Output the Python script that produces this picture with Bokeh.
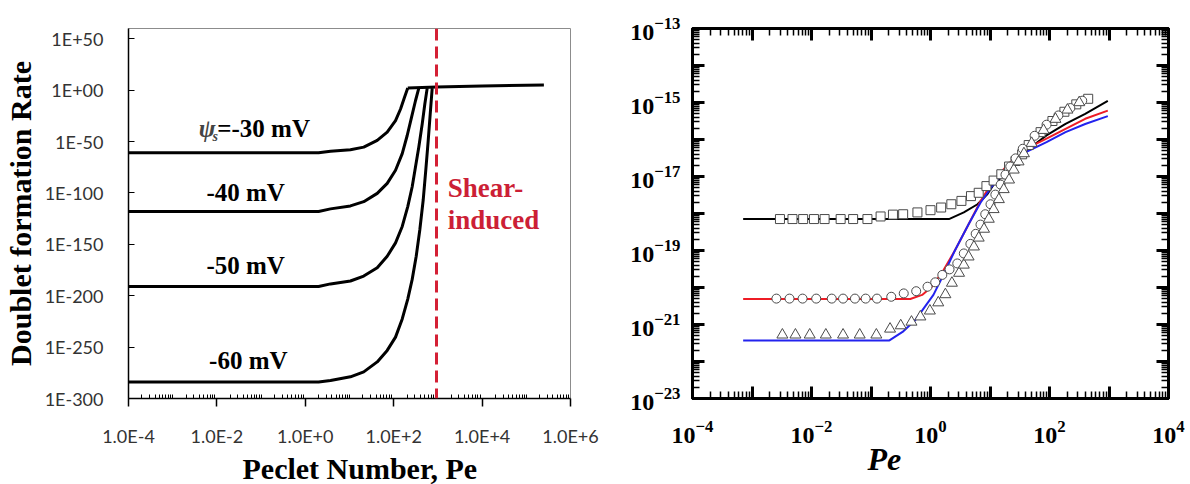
from bokeh.plotting import figure
from bokeh.layouts import row
from bokeh.models import (FixedTicker, LogAxis, CustomJSTickFormatter, LogTickFormatter,
                          Span, Label, Range1d, Title)
from bokeh.embed import file_html
from bokeh.resources import INLINE

# ---------------- Left panel data: Pe and log10(doublet formation rate) ----------------
PE_30 = [1e-4, 2.0, 3.72, 10.5, 21.0, 42.4, 71.3, 110, 143, 175, 208]
LOG_RATE_30 = [-61, -61, -59.5, -57.9, -55.4, -48.9, -40.9, -29.6, -18.3, -7.1, 2]
PE_40 = [1e-4, 2.0, 3.72, 10.5, 21.0, 42.4, 71.3, 110, 156, 202, 253, 311, 370]
LOG_RATE_40 = [-118, -118, -115.5, -112.6, -108.5, -100.4, -90.7, -77.9, -61.8, -44.1, -26.4, -10.3, 2]
PE_50 = [1e-4, 2.0, 3.72, 10.5, 21.0, 42.4, 71.3, 110, 156, 208, 262, 311, 370, 442, 506, 573]
LOG_RATE_50 = [-191, -191, -188.5, -185.7, -180.9, -172.8, -161.6, -148.6, -132.6, -113.3, -94.0,
               -74.7, -55.4, -32.8, -13.5, 2]
PE_60 = [1e-4, 2.0, 3.72, 10.5, 21.0, 42.4, 71.3, 110, 156, 208, 262, 323, 390, 465, 532, 604, 670, 743]
LOG_RATE_60 = [-284, -284, -282.5, -278.9, -274.1, -264.4, -253.2, -240.3, -222.6, -203.3, -184.1,
               -161.6, -135.8, -106.9, -77.9, -48.9, -23.2, 2]
PE_PLATEAU = [208, 930, 1e4, 2.5e5]
LOG_RATE_PLATEAU = [2, 3, 4, 5]
PE_SHEAR = 930

LEFT_X_TICKS = [1e-4, 1e-2, 1e0, 1e2, 1e4, 1e6]
LEFT_Y_TICKS = [-300, -250, -200, -150, -100, -50, 0, 50]

# ---------------- Right panel data ----------------
PE_LINE_K = [7.1e-4, 2.04, 3.63, 6.17, 8.91, 11.5, 19.5, 41.7, 89.1, 186, 398, 955]
K_LINE = [7.08e-19, 7.08e-19, 1.07e-18, 1.78e-18, 3.24e-18, 6.03e-18, 1.35e-17, 5.13e-17,
          1.29e-16, 2.63e-16, 4.90e-16, 1.10e-15]
PE_LINE_R = [7.1e-4, 0.457, 0.724, 1.05, 1.66, 2.57, 4.37, 6.92, 10.7, 19.5, 41.7, 89.1, 186, 398, 955]
R_LINE = [4.9e-21, 4.9e-21, 6.3e-21, 1.05e-20, 2.95e-20, 1.0e-19, 5.13e-19, 2.14e-18, 6.61e-18,
          2.04e-17, 5.75e-17, 1.05e-16, 1.95e-16, 3.63e-16, 6.03e-16]
PE_LINE_B = [7.1e-4, 0.204, 0.339, 0.562, 1.12, 1.66, 2.57, 4.37, 6.92, 10.7, 19.5, 41.7, 89.1,
             186, 398, 955]
B_LINE = [3.72e-22, 3.72e-22, 6.31e-22, 1.35e-21, 6.31e-21, 2.24e-20, 1.0e-19, 5.13e-19, 1.95e-18,
          5.37e-18, 1.66e-17, 4.68e-17, 8.51e-17, 1.58e-16, 2.63e-16, 4.27e-16]

PE_SQ = [2.95e-3, 4.79e-3, 7.24e-3, 0.011, 0.0166, 0.0309, 0.0501, 0.0871, 0.145, 0.234, 0.347,
         0.603, 1.0, 1.51, 2.24, 3.31, 4.79, 6.46, 8.71, 11.5, 15.5, 20.9, 26.9, 34.7, 44.7, 70.8,
         112, 178, 282, 447]
SQ = [7.08e-19] * 8 + [8.32e-19, 9.33e-19, 9.55e-19, 1.07e-18, 1.23e-18, 1.45e-18, 1.78e-18,
                       2.19e-18, 2.95e-18, 3.63e-18, 5.50e-18, 7.76e-18, 1.15e-17, 1.86e-17,
                       2.63e-17, 3.98e-17, 7.08e-17, 1.58e-16, 3.16e-16, 5.62e-16, 8.91e-16, 1.26e-15]
PE_CI = [2.57e-3, 4.27e-3, 7.08e-3, 0.012, 0.0219, 0.0339, 0.0537, 0.0813, 0.126, 0.219, 0.355,
         0.575, 0.891, 1.20, 1.58, 2.09, 2.82, 3.63, 4.68, 5.75, 6.92, 8.32, 10.2, 12.3, 15.1, 18.2,
         21.9, 26.9, 35.5, 56.2, 89.1, 141, 224, 355]
CI = [5.01e-21] * 9 + [5.62e-21, 6.92e-21, 7.94e-21, 1.05e-20, 1.38e-20, 2.19e-20, 3.09e-20,
                       4.47e-20, 8.32e-20, 1.51e-19, 2.82e-19, 5.01e-19, 9.55e-19, 1.78e-18,
                       3.24e-18, 6.03e-18, 1.12e-17, 1.86e-17, 3.09e-17, 5.62e-17, 1.26e-16,
                       2.51e-16, 4.47e-16, 7.08e-16, 1.12e-15]
PE_TR = [3.24e-3, 5.37e-3, 9.33e-3, 0.0174, 0.0339, 0.0646, 0.123, 0.209, 0.316, 0.479, 0.676,
         0.977, 1.35, 1.78, 2.29, 3.02, 3.63, 4.37, 5.37, 6.46, 7.94, 9.55, 11.5, 14.1, 17.0, 20.9,
         25.1, 30.2, 37.2, 50.1, 79.4, 126, 200, 316]
TR = [5.25e-22] * 7 + [7.59e-22, 9.33e-22, 1.17e-21, 1.62e-21, 2.34e-21, 3.89e-21, 6.46e-21,
                       1.32e-20, 2.45e-20, 4.07e-20, 6.76e-20, 1.26e-19, 2.19e-19, 3.80e-19,
                       7.08e-19, 1.29e-18, 2.40e-18, 4.47e-18, 8.13e-18, 1.51e-17, 2.51e-17,
                       4.17e-17, 7.94e-17, 1.78e-16, 3.55e-16, 6.31e-16, 1.0e-15]

RIGHT_X_LABELS = [1e-4, 1e-2, 1e0, 1e2, 1e4]
RIGHT_Y_LABELS = [1e-23, 1e-21, 1e-19, 1e-17, 1e-15, 1e-13]

SERIF = "Liberation Serif"

# =============================== LEFT PANEL ===============================
p1 = figure(width=600, height=484, x_axis_type="log",
            x_range=Range1d(1e-4, 1e6), y_range=Range1d(-300, 60),
            output_backend="svg", toolbar_location=None,
            min_border_left=128, min_border_right=30, min_border_top=27, min_border_bottom=84)
p1.grid.visible = False
p1.outline_line_color = "#8c8c8c"
p1.outline_line_width = 1

x_minor = []
for d in range(-4, 6):
    for k in range(1, 10):
        if k == 1 and d % 2 == 0:
            continue
        x_minor.append(k * 10.0 ** d)
xa = p1.xaxis[0]
xa.ticker = FixedTicker(ticks=LEFT_X_TICKS, minor_ticks=x_minor)
xa.formatter = CustomJSTickFormatter(code="""
const e = Math.round(Math.log10(tick));
return '1.0E' + (e < 0 ? '-' : '+') + Math.abs(e);""")
xa.axis_line_color = "black"
xa.axis_line_width = 1.5
xa.major_tick_out = 8
xa.major_tick_in = 0
xa.major_tick_line_width = 1.5
xa.minor_tick_in = 4
xa.minor_tick_out = 0
xa.minor_tick_line_width = 1
xa.major_label_standoff = 18
xa.major_label_text_font = "Lato"
xa.major_label_text_font_size = "18px"
xa.major_label_text_color = "#333333"

ya = p1.yaxis[0]
ya.ticker = FixedTicker(ticks=LEFT_Y_TICKS, minor_ticks=[])
ya.formatter = CustomJSTickFormatter(code="""
const e = Math.round(tick);
const a = Math.abs(e);
return '1E' + (e < 0 ? '-' : '+') + (a < 10 ? '0' + a : '' + a);""")
ya.axis_line_color = "black"
ya.axis_line_width = 1.5
ya.major_tick_in = 6
ya.major_tick_out = 0
ya.major_tick_line_width = 1.2
ya.minor_tick_in = 0
ya.minor_tick_out = 0
ya.major_label_standoff = 25
ya.major_label_text_font = "Lato"
ya.major_label_text_font_size = "18px"
ya.major_label_text_color = "#333333"
ya.axis_label = "Doublet formation Rate"
ya.axis_label_text_font = SERIF
ya.axis_label_text_font_style = "bold"
ya.axis_label_text_font_size = "30px"
ya.axis_label_text_color = "black"
ya.axis_label_standoff = 5

for xs, ys in [(PE_30, LOG_RATE_30), (PE_40, LOG_RATE_40), (PE_50, LOG_RATE_50),
               (PE_60, LOG_RATE_60), (PE_PLATEAU, LOG_RATE_PLATEAU)]:
    p1.line(xs, ys, line_color="black", line_width=3, line_join="round")

p1.add_layout(Span(location=PE_SHEAR, dimension="height", line_color="#d42035",
                   line_width=3, line_dash="12 6"))

mv_style = dict(text_font=SERIF, text_font_style="bold", text_font_size="25px",
                text_color="black", text_baseline="middle")
p1.add_layout(Label(x=0.0093, y=-37, text="ψ", text_align="right",
                    text_font=SERIF, text_font_style="bold italic", text_font_size="25px",
                    text_baseline="middle"))
p1.add_layout(Label(x=0.0080, y=-45, text="s", text_align="left",
                    text_font=SERIF, text_font_style="bold italic", text_font_size="14px",
                    text_baseline="middle"))
p1.add_layout(Label(x=0.0102, y=-37, text="=-30 mV", text_align="left", **mv_style))
p1.add_layout(Label(x=0.0447, y=-100, text="-40 mV", text_align="center", **mv_style))
p1.add_layout(Label(x=0.0447, y=-171, text="-50 mV", text_align="center", **mv_style))
p1.add_layout(Label(x=0.0513, y=-263, text="-60 mV", text_align="center", **mv_style))
red_style = dict(text_font=SERIF, text_font_style="bold", text_font_size="27px",
                 text_color="#cc1f36", text_baseline="middle", text_align="left")
p1.add_layout(Label(x=1660, y=-95, text="Shear-", **red_style))
p1.add_layout(Label(x=1660, y=-126, text="induced", **red_style))

p1.add_layout(Title(text="Peclet Number, Pe", align="left", offset=114, standoff=0,
                    text_font=SERIF, text_font_style="bold", text_font_size="30px",
                    text_color="black"), "below")

# =============================== RIGHT PANEL ===============================
p2 = figure(width=590, height=484, x_axis_type="log", y_axis_type="log",
            x_range=Range1d(1e-4, 1e4), y_range=Range1d(1e-23, 1e-13),
            x_axis_location=None, y_axis_location=None,
            output_backend="svg", toolbar_location=None,
            min_border_left=92, min_border_right=22, min_border_top=28, min_border_bottom=80)
p2.grid.visible = False
p2.outline_line_color = "black"
p2.outline_line_width = 3


def tick_axis(lo, hi):
    minors = [k * 10.0 ** d for d in range(lo, hi) for k in range(2, 10)]
    return LogAxis(ticker=FixedTicker(ticks=[10.0 ** d for d in range(lo, hi + 1)], minor_ticks=minors),
                   formatter=CustomJSTickFormatter(code="return '';"),
                   major_label_text_font_size="0px", major_label_standoff=0,
                   major_tick_in=12, major_tick_out=0, minor_tick_in=7, minor_tick_out=0,
                   axis_line_width=3, major_tick_line_width=3, minor_tick_line_width=1.5)


def label_axis(ticks, standoff):
    return LogAxis(ticker=FixedTicker(ticks=ticks, minor_ticks=[]),
                   formatter=LogTickFormatter(),
                   axis_line_color=None, major_tick_line_color=None, minor_tick_line_color=None,
                   major_tick_in=0, major_tick_out=0, minor_tick_in=0, minor_tick_out=0,
                   major_label_standoff=standoff,
                   major_label_text_font=SERIF, major_label_text_font_style="bold",
                   major_label_text_font_size="24px", major_label_text_color="black")


p2.add_layout(tick_axis(-4, 4), "below")
p2.add_layout(label_axis(RIGHT_X_LABELS, 22), "below")
p2.add_layout(tick_axis(-4, 4), "above")
p2.add_layout(tick_axis(-23, -13), "left")
p2.add_layout(label_axis(RIGHT_Y_LABELS, 12), "left")
p2.add_layout(tick_axis(-23, -13), "right")

p2.line(PE_LINE_K, K_LINE, line_color="black", line_width=2)
p2.line(PE_LINE_R, R_LINE, line_color="#ee1c25", line_width=2)
p2.line(PE_LINE_B, B_LINE, line_color="#2323ee", line_width=2)

mk = dict(fill_color="white", line_color="#4a4a4a", line_width=1)
p2.scatter(PE_SQ, SQ, marker="square", size=9, **mk)
p2.scatter(PE_CI, CI, marker="circle", size=9, **mk)
p2.scatter(PE_TR, TR, marker="triangle", size=11, **mk)

p2.add_layout(Title(text="Pe", align="left", offset=175, standoff=-14,
                    text_font=SERIF, text_font_style="bold italic", text_font_size="32px",
                    text_color="black"), "below")

layout = row(p1, p2)
open("out.html", "w").write(file_html(layout, INLINE))
